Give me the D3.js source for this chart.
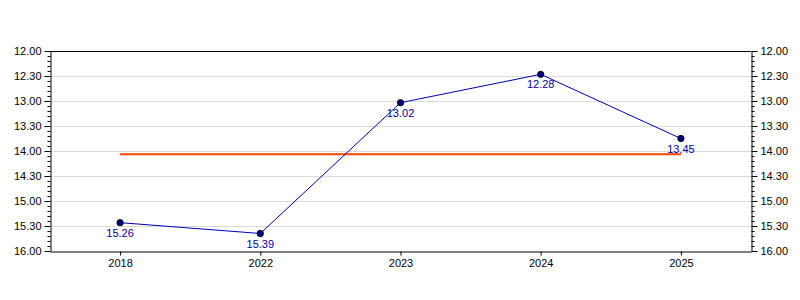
<!DOCTYPE html>
<html>
<head>
<meta charset="utf-8">
<script src="https://cdn.jsdelivr.net/npm/d3@7"></script>
<style>
  body { margin: 0; background: #fff; }
  text { font-family: "Liberation Sans", Arial, sans-serif; }
</style>
</head>
<body>
<svg id="chart" width="800" height="300"></svg>
<script>
// times written as minutes.seconds
const years = ["2018", "2022", "2023", "2024", "2025"];
const times = [15.26, 15.39, 13.02, 12.28, 13.45];
const targetTime = 14.04;
const yTickLabels = ["12.00", "12.30", "13.00", "13.30", "14.00", "14.30", "15.00", "15.30", "16.00"];

const margin = {top: 51, right: 49, bottom: 49, left: 50},
    width = 800 - margin.left - margin.right,
    height = 300 - margin.top - margin.bottom;

// mm.ss -> decimal minutes
function toMin(v) {
    const m = Math.floor(v);
    return m + Math.round((v - m) * 100) / 60;
}
function labelToMin(s) {
    const p = s.split(".");
    return +p[0] + (+p[1]) / 60;
}

const svg = d3.select("#chart")
    .append("g")
    .attr("transform", "translate(" + margin.left + "," + margin.top + ")");

const xScale = d3.scalePoint()
    .domain(years)
    .range([0, width])
    .padding(0.5);

const yScale = d3.scaleLinear()
    .domain([12, 16])
    .range([0, height]);

const majorTicks = yTickLabels.map(labelToMin);
const minorTicks = d3.range(12, 16.0001, 0.1).filter(function (d) {
    return Math.abs(d * 2 - Math.round(d * 2)) > 0.01;
});

// grid
svg.append("g")
    .selectAll("line")
    .data(majorTicks.slice(1, -1))
    .join("line")
    .attr("x1", 0)
    .attr("x2", width)
    .attr("y1", function (d) { return Math.round(yScale(d)) + 0.5; })
    .attr("y2", function (d) { return Math.round(yScale(d)) + 0.5; })
    .attr("stroke", "#dcdcdc");

// frame top
svg.append("line")
    .attr("x1", 0).attr("x2", width)
    .attr("y1", 0.5).attr("y2", 0.5)
    .attr("stroke", "#000");

function yAxis(axisFn, x) {
    const g = svg.append("g")
        .attr("transform", "translate(" + x + ",0)");
    g.call(axisFn(yScale)
        .tickValues(minorTicks)
        .tickSize(3)
        .tickFormat(""));
    g.call(function (s) { s.select(".domain").remove(); });
    const g2 = svg.append("g")
        .attr("transform", "translate(" + x + ",0)");
    g2.call(axisFn(yScale)
        .tickValues(majorTicks)
        .tickSize(6)
        .tickSizeOuter(0)
        .tickPadding(3)
        .tickFormat(function (d, i) { return yTickLabels[i]; }));
    [g, g2].forEach(function (s) {
        s.attr("font-size", 11).attr("font-family", "Liberation Sans, Arial, sans-serif");
        s.selectAll("text").attr("fill", "#000");
        s.selectAll("line").attr("stroke", "#000");
        s.select(".domain").attr("stroke", "#000");
    });
}
yAxis(d3.axisLeft, 0.5);
yAxis(d3.axisRight, width + 0.5);

// x axis
const xg = svg.append("g")
    .attr("transform", "translate(0," + (height + 0.5) + ")")
    .call(d3.axisBottom(xScale).tickSize(4).tickSizeOuter(0).tickPadding(4));
xg.attr("font-size", 11).attr("font-family", "Liberation Sans, Arial, sans-serif");
xg.select(".domain").attr("stroke", "#000");
xg.selectAll("line").attr("stroke", "#000");
xg.selectAll("text").attr("fill", "#000");

// target line
svg.append("line")
    .attr("x1", xScale(years[0]))
    .attr("x2", xScale(years[years.length - 1]))
    .attr("y1", yScale(toMin(targetTime)))
    .attr("y2", yScale(toMin(targetTime)))
    .attr("stroke", "#ff4500")
    .attr("stroke-width", 2);

const pts = years.map(function (y, i) { return {year: y, t: times[i]}; });

svg.append("path")
    .datum(pts)
    .attr("fill", "none")
    .attr("stroke", "#0000b0")
    .attr("stroke-width", 1)
    .attr("d", d3.line()
        .x(function (d) { return xScale(d.year); })
        .y(function (d) { return yScale(toMin(d.t)); }));

svg.selectAll(".pt")
    .data(pts)
    .join("circle")
    .attr("class", "pt")
    .attr("cx", function (d) { return xScale(d.year); })
    .attr("cy", function (d) { return yScale(toMin(d.t)); })
    .attr("r", 3.2)
    .attr("fill", "#000080")
    .attr("stroke", "#000")
    .attr("stroke-width", 0.8);

svg.selectAll(".lbl")
    .data(pts)
    .join("text")
    .attr("class", "lbl")
    .attr("x", function (d) { return xScale(d.year); })
    .attr("y", function (d) { return yScale(toMin(d.t)) + 14; })
    .attr("text-anchor", "middle")
    .attr("font-size", 11)
    .attr("fill", "#000099")
    .text(function (d) { return d.t.toFixed(2); });
</script>
</body>
</html>
